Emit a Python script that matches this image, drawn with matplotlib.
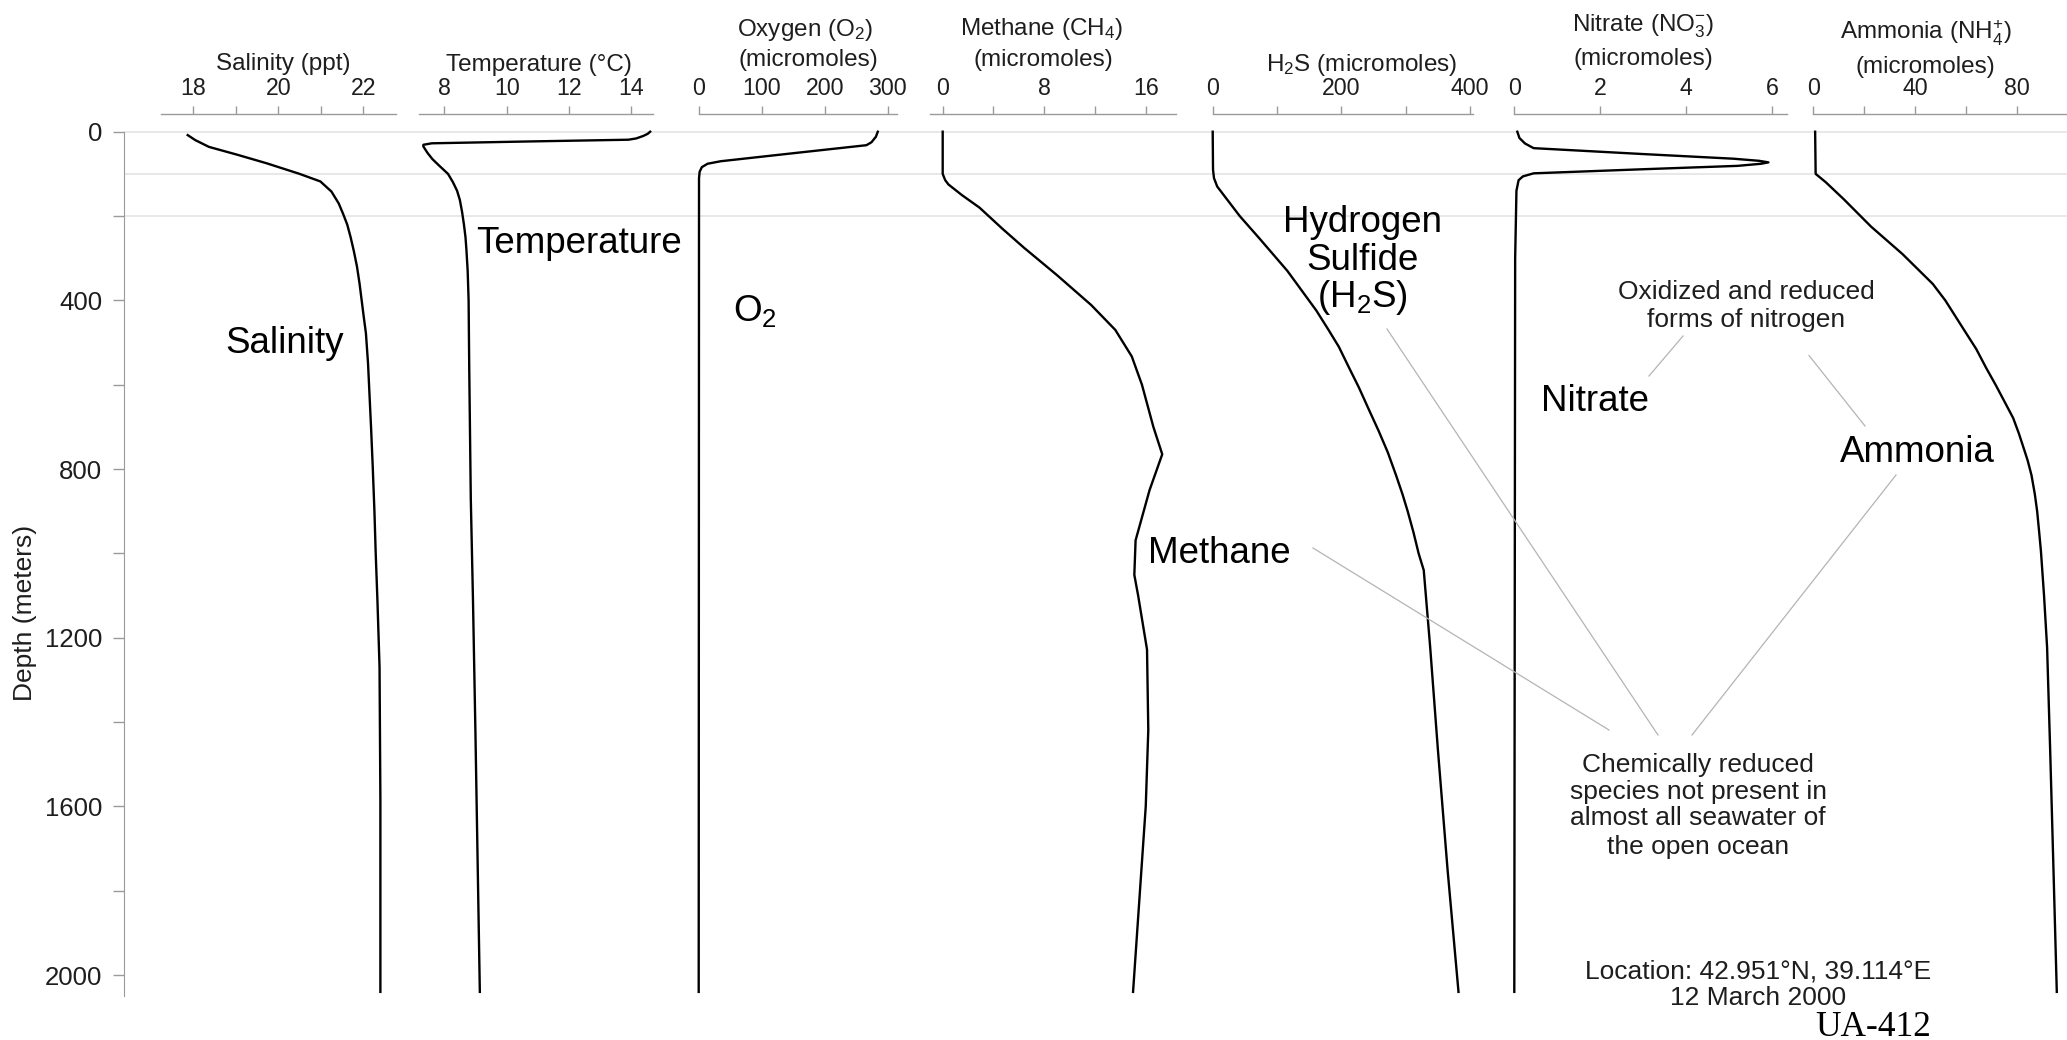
import matplotlib.pyplot as plt
from matplotlib.lines import Line2D

plt.rcParams['font.family'] = ['Liberation Sans', 'DejaVu Sans']
plt.rcParams['mathtext.fontset'] = 'custom'
plt.rcParams['mathtext.rm'] = 'Liberation Sans'
plt.rcParams['mathtext.it'] = 'Liberation Sans:italic'
plt.rcParams['mathtext.default'] = 'regular'

# profiles, depth in meters
salinity_depth = [8, 20, 36, 55, 75, 100, 118, 142, 170, 194, 220, 250, 285, 320, 360, 400, 440, 478, 550, 636, 700, 794, 900, 1000, 1110, 1269, 1585, 2040]
salinity_ppt = [17.87, 18.05, 18.37, 19.05, 19.73, 20.5, 20.99, 21.25, 21.42, 21.52, 21.62, 21.7, 21.78, 21.85, 21.91, 21.96, 22.01, 22.06, 22.11, 22.15, 22.18, 22.22, 22.26, 22.29, 22.33, 22.38, 22.40, 22.40]

temp_depth = [0, 5, 10, 16, 19, 23, 27.5, 31, 35, 50, 65, 80, 100, 120, 140, 162, 190, 220, 250, 280, 330, 400, 560, 870, 1110, 1430, 2040]
temp_c = [14.6, 14.52, 14.38, 14.15, 13.9, 10.8, 7.6, 7.33, 7.33, 7.46, 7.62, 7.83, 8.12, 8.28, 8.41, 8.5, 8.57, 8.63, 8.68, 8.71, 8.75, 8.78, 8.80, 8.85, 8.92, 9.0, 9.14]

oxygen_depth = [0, 12, 25, 32, 50, 70, 76, 84, 95, 110, 2040]
oxygen_um = [284, 281, 274, 266, 156, 35, 14, 5, 1.5, 0.5, 0]

methane_depth = [0, 100, 115, 125, 150, 180, 230, 275, 340, 411, 470, 533, 600, 700, 765, 850, 969, 1051, 1100, 1228, 1419, 1600, 2040]
methane_um = [0, 0, 0.2, 0.45, 1.5, 2.9, 4.7, 6.4, 9.0, 11.7, 13.6, 14.9, 15.7, 16.6, 17.3, 16.3, 15.2, 15.1, 15.4, 16.1, 16.2, 16.0, 15.0]

h2s_depth = [0, 90, 110, 130, 160, 200, 252, 330, 424, 470, 510, 560, 606, 660, 710, 760, 815, 860, 900, 950, 1000, 1040, 1223, 1466, 1750, 2040]
h2s_um = [0, 0.5, 2, 7, 22, 42, 72, 116, 161, 180, 196, 212, 227, 243, 258, 272, 285, 295, 303, 312, 320, 328, 338, 350, 365, 382]

nitrate_depth = [0, 15, 28, 39, 53, 64, 69, 72.7, 76, 81, 89, 98.7, 106, 115, 140, 300, 2040]
nitrate_um = [0.07, 0.12, 0.25, 0.45, 3.0, 5.1, 5.7, 5.92, 5.75, 5.2, 3.0, 0.45, 0.2, 0.1, 0.05, 0.02, 0.0]

ammonia_depth = [0, 100, 120, 160, 225, 290, 361, 400, 440, 480, 515, 560, 600, 640, 679, 715, 750, 780, 815, 860, 900, 950, 996, 1100, 1223, 1466, 1750, 2040]
ammonia_um = [0.8, 1.0, 5, 12, 22.7, 35, 46.9, 51.8, 56, 60.2, 63.9, 67.8, 71.5, 75, 78.4, 80.6, 82.5, 84.1, 85.6, 86.9, 87.8, 88.6, 89.3, 90.5, 91.7, 92.9, 94.2, 95.5]

depth_major = [0, 400, 800, 1200, 1600, 2000]
depth_minor = [200, 600, 1000, 1400, 1800]
grid_depths = [0, 100, 200]

W, H = 2067, 1040
TOP, BOT = 114, 996.1
D_TOP, D_BOT = -42, 2050
AXIS = '#9a9a9a'
TXT = '#1e1e1e'
GRID = '#e4e4e4'
LEADER = '#b4b4b4'


def fx(x):
    return x / W


def fy(y):
    return 1 - y / H


fig = plt.figure(figsize=(W / 100, H / 100), dpi=100)

# shared depth axis + light guide lines
bg = fig.add_axes([fx(124), fy(BOT), 1 - fx(124), (BOT - TOP) / H])
bg.set_xlim(0, 1)
bg.set_ylim(D_BOT, D_TOP)
bg.patch.set_alpha(0)
for s in ['top', 'right', 'bottom']:
    bg.spines[s].set_visible(False)
bg.spines['left'].set_bounds(0, 2050)
bg.spines['left'].set_color(AXIS)
bg.set_xticks([])
bg.set_yticks(depth_major)
bg.set_yticks(depth_minor, minor=True)
bg.tick_params(axis='y', which='both', length=7.7, width=1, color=AXIS,
               labelsize=18.5, labelcolor=TXT, pad=8)
for d in grid_depths:
    bg.axhline(d, color=GRID, lw=1.2, zorder=0)

fig.text(fx(24.6), fy(613), 'Depth (meters)', rotation=90, ha='center', va='center',
         fontsize=19, color=TXT)

panels = [
    dict(x=salinity_ppt, d=salinity_depth, px=(161.3, 395.7), xlim=(17.25, 22.76),
         major=[18, 20, 22], minor=[19, 21],
         title=[('Salinity (ppt)', 283.7, 69.7)]),
    dict(x=temp_c, d=temp_depth, px=(419, 653.3), xlim=(7.19, 14.70),
         major=[8, 10, 12, 14], minor=[],
         title=[('Temperature (°C)', 538.6, 71)]),
    dict(x=oxygen_um, d=oxygen_depth, px=(698.7, 896.7), xlim=(0, 314),
         major=[0, 100, 200, 300], minor=[],
         title=[('Oxygen (O$_2$)', 805, 36.4), ('(micromoles)', 808, 66.4)]),
    dict(x=methane_um, d=methane_depth, px=(930, 1175.7), xlim=(-1.0, 18.36),
         major=[0, 8, 16], minor=[4, 12],
         title=[('Methane (CH$_4$)', 1042, 35.4), ('(micromoles)', 1043, 66.4)]),
    dict(x=h2s_um, d=h2s_depth, px=(1212.7, 1473.3), xlim=(0, 405),
         major=[0, 200, 400], minor=[100, 300],
         title=[('H$_2$S (micromoles)', 1362, 71)]),
    dict(x=nitrate_um, d=nitrate_depth, px=(1514.3, 1786.9), xlim=(0, 6.35),
         major=[0, 2, 4, 6], minor=[],
         title=[('Nitrate (NO$_3^{-}$)', 1643, 31.4), ('(micromoles)', 1643, 64.7)]),
    dict(x=ammonia_um, d=ammonia_depth, px=(1813.1, 2067), xlim=(0, 99.5),
         major=[0, 40, 80], minor=[20, 60],
         title=[('Ammonia (NH$_4^{+}$)', 1925.5, 39.7), ('(micromoles)', 1925.7, 73)]),
]

for p in panels:
    x0, x1 = p['px']
    ax = fig.add_axes([fx(x0), fy(BOT), (x1 - x0) / W, (BOT - TOP) / H])
    ax.patch.set_alpha(0)
    ax.set_xlim(*p['xlim'])
    ax.set_ylim(D_BOT, D_TOP)
    for s in ['left', 'right', 'bottom']:
        ax.spines[s].set_visible(False)
    ax.spines['top'].set_color(AXIS)
    ax.spines['top'].set_linewidth(1)
    ax.xaxis.tick_top()
    ax.set_xticks(p['major'])
    ax.set_xticks(p['minor'], minor=True)
    ax.tick_params(axis='x', which='both', length=6, width=1, color=AXIS,
                   labelsize=16.7, labelcolor=TXT, pad=4)
    ax.set_yticks([])
    ax.plot(p['x'], p['d'], color='black', lw=1.7, clip_on=False,
            solid_joinstyle='round')
    for txt, tx, ty in p['title']:
        fig.text(fx(tx), fy(ty), txt, ha='center', va='baseline', fontsize=17.5, color=TXT)

# curve labels
big = dict(fontsize=26.5, color='black', va='baseline')
fig.text(fx(285), fy(352.7), 'Salinity', ha='center', **big)
fig.text(fx(579), fy(253), 'Temperature', ha='center', **big)
fig.text(fx(733), fy(321), 'O$_2$', ha='left', **big)
fig.text(fx(1219), fy(563), 'Methane', ha='center', **big)
fig.text(fx(1362), fy(232), 'Hydrogen', ha='center', **big)
fig.text(fx(1362), fy(270), 'Sulfide', ha='center', **big)
fig.text(fx(1362), fy(307), '(H$_2$S)', ha='center', **big)
fig.text(fx(1595), fy(411), 'Nitrate', ha='center', **big)
fig.text(fx(1917), fy(462), 'Ammonia', ha='center', **big)

note = dict(fontsize=19, color=TXT, ha='center', va='center')
fig.text(fx(1746.5), fy(291.6), 'Oxidized and reduced', **note)
fig.text(fx(1746.5), fy(319.5), 'forms of nitrogen', **note)
for line, ty in zip(['Chemically reduced', 'species not present in',
                     'almost all seawater of', 'the open ocean'], [765, 792, 818, 847]):
    fig.text(fx(1698), fy(ty), line, **note)
fig.text(fx(1758), fy(971), 'Location: 42.951°N, 39.114°E', **note)
fig.text(fx(1758), fy(998), '12 March 2000', **note)
fig.text(fx(1873), fy(1027), 'UA-412', fontsize=25.5, color='black', ha='center', va='center',
         family=['Liberation Serif', 'DejaVu Serif'])

# leader lines
leaders = [((1683, 336), (1649, 376)),
           ((1809, 355.5), (1865, 426)),
           ((1387, 329), (1658, 735)),
           ((1313, 548), (1609, 730)),
           ((1896, 475), (1692, 735))]
for (a, b) in leaders:
    fig.add_artist(Line2D([fx(a[0]), fx(b[0])], [fy(a[1]), fy(b[1])],
                          transform=fig.transFigure, color=LEADER, lw=0.9))

fig.savefig('out.png', dpi=100)
